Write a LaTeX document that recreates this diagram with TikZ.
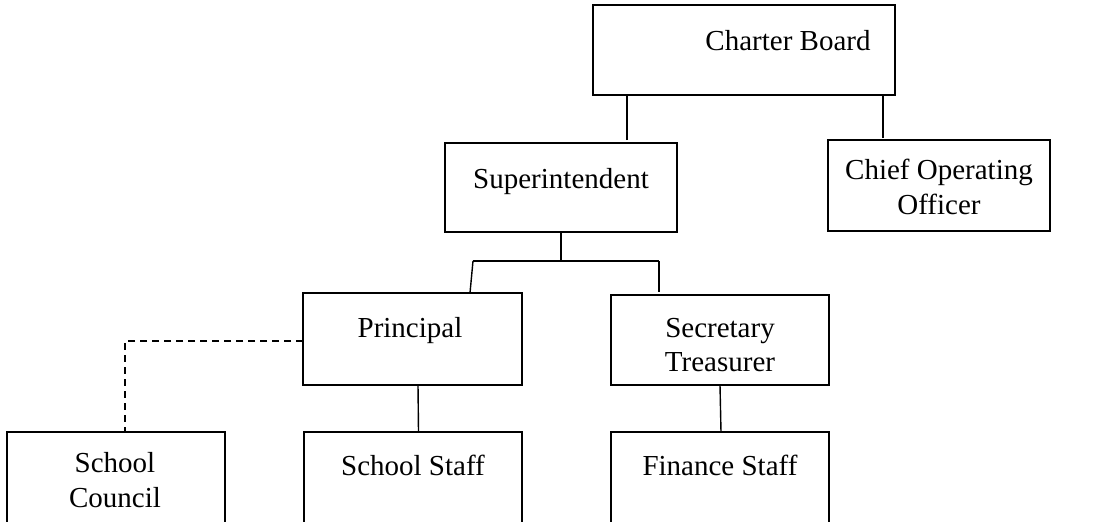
\documentclass[tikz,border=0pt]{standalone}
\usepackage{fontspec}
\setmainfont{Liberation Serif}
\begin{document}
\begin{tikzpicture}[x=1pt,y=-1pt,
  box/.style={draw=black,line width=2.9pt,rectangle,inner sep=0pt,outer sep=0pt},
  txt/.style={anchor=base,inner sep=0pt,font=\fontsize{29}{35}\selectfont},
  conn/.style={draw=black,line width=1.4pt},
  dashconn/.style={draw=black,line width=1.9pt,dash pattern=on 7pt off 5pt}]
\useasboundingbox (0,0) rectangle (1103,522);
\clip (0,0) rectangle (1103,522);
% boxes
\node[box,minimum width=302pt,minimum height=90pt] (cb) at (744,50) {};
\node[box,minimum width=232pt,minimum height=89pt] (sup) at (561,187.5) {};
\node[box,minimum width=222pt,minimum height=91pt] (coo) at (939,185.5) {};
\node[box,minimum width=219pt,minimum height=92pt] (pri) at (412.5,339) {};
\node[box,minimum width=218pt,minimum height=90pt] (sec) at (720,340) {};
\node[box,minimum width=218pt,minimum height=100pt] (fin) at (720,482) {};
\node[box,minimum width=218pt,minimum height=100pt] (ss) at (413,482) {};
\node[box,minimum width=218pt,minimum height=100pt] (sc) at (116,482) {};
% texts
\node[txt] (cbt) at (788,50) {Charter Board};
\node[txt] (supt) at (561,188) {Superintendent};
\node[txt] (coot1) at (939,179) {Chief Operating};
\node[txt] (coot2) at (939,214) {Officer};
\node[txt] (prit) at (410,337) {Principal};
\node[txt] (sect1) at (720,337) {Secretary};
\node[txt] (sect2) at (720,371) {Treasurer};
\node[txt] (fint) at (720,475) {Finance Staff};
\node[txt] (sst) at (413,475) {School Staff};
\node[txt] (sct1) at (115,472) {School};
\node[txt] (sct2) at (115,507) {Council};
% connectors
\draw[conn] ([xshift=66pt]sup.north) ++(0,-3) -- ([xshift=66pt]sup.north |- cb.south);
\draw[conn] ([xshift=-56pt]coo.north) ++(0,-2) -- ([xshift=-56pt]coo.north |- cb.south);
\coordinate (br) at (561,261);
\coordinate (brl) at (473,261);
\coordinate (brr) at (659,261);
\draw[conn] (sup.south) -- (br);
\draw[conn] (brl) -- (brr);
\draw[conn] (brl) -- ([xshift=57.5pt]pri.north);
\draw[conn] (brr) -- ([xshift=-61pt,yshift=3pt]sec.north);
\draw[conn] ([xshift=5.5pt]pri.south) -- ([xshift=5.5pt]ss.north);
\draw[conn] (sec.south) -- ([xshift=1pt]fin.north);
\draw[dashconn] ([yshift=-2pt]pri.west) -| ([xshift=9pt]sc.north);
\end{tikzpicture}
\end{document}
